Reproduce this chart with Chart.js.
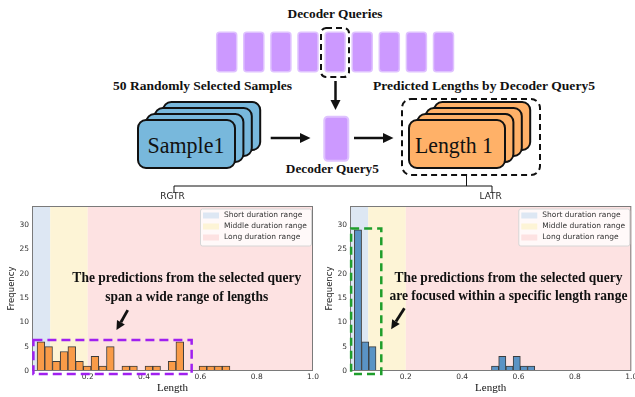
<!DOCTYPE html>
<html>
<head>
<meta charset="utf-8">
<script src="https://cdn.jsdelivr.net/npm/chart.js@4.4.0/dist/chart.umd.min.js"></script>
<style>
  html, body { margin: 0; padding: 0; background: #fff; overflow: hidden; }
  body { width: 635px; height: 397px; position: relative; }
  #diagram { position: absolute; left: 0; top: 0; pointer-events: none; }
  .panel { position: absolute; top: 190px; height: 207px; }
  #rgtrBox { left: 0; width: 322px; }
  #latrBox { left: 318px; width: 325px; }
  .lbl { font-family: "Liberation Serif", serif; font-weight: bold; fill: #111; }
  .big { font-family: "Liberation Serif", serif; fill: #111; }
</style>
</head>
<body>
<svg id="diagram" width="635" height="200">
  <text class="lbl" x="335" y="17.5" font-size="11.5" text-anchor="middle" textLength="95" lengthAdjust="spacingAndGlyphs">Decoder Queries</text>
  <g fill="#cc99ff" stroke="#dfc2ff" stroke-width="1.5">
    <rect x="216.7" y="32.3" width="20" height="39.4" rx="3"/>
    <rect x="243.8" y="32.3" width="20" height="39.4" rx="3"/>
    <rect x="270.9" y="32.3" width="20" height="39.4" rx="3"/>
    <rect x="298.0" y="32.3" width="20" height="39.4" rx="3"/>
    <rect x="325.1" y="32.3" width="20" height="39.4" rx="3"/>
    <rect x="352.2" y="32.3" width="20" height="39.4" rx="3"/>
    <rect x="379.3" y="32.3" width="20" height="39.4" rx="3"/>
    <rect x="406.4" y="32.3" width="20" height="39.4" rx="3"/>
    <rect x="433.5" y="32.3" width="20" height="39.4" rx="3"/>
  </g>
  <rect x="321" y="28" width="28" height="49" rx="5" fill="none" stroke="#111" stroke-width="2" stroke-dasharray="6 4"/>
  <line x1="335.5" y1="81" x2="335.5" y2="101" stroke="#111" stroke-width="2.5"/>
  <polygon points="330.5,100 340.5,100 335.5,110" fill="#111"/>

  <text class="lbl" x="202.5" y="90" font-size="12.5" text-anchor="middle" textLength="179" lengthAdjust="spacingAndGlyphs">50 Randomly Selected Samples</text>
  <text class="lbl" x="484" y="90" font-size="12.5" text-anchor="middle" textLength="222" lengthAdjust="spacingAndGlyphs">Predicted Lengths by Decoder Query5</text>

  <g fill="#78b8dc" stroke="#111" stroke-width="2">
    <rect x="163.2" y="102" width="97" height="48" rx="8"/>
    <rect x="154.8" y="108" width="97" height="48" rx="8"/>
    <rect x="146.4" y="114" width="97" height="48" rx="8"/>
    <rect x="138" y="120" width="97" height="48" rx="8"/>
  </g>
  <text class="big" x="186" y="152.5" font-size="23" text-anchor="middle" textLength="77" lengthAdjust="spacingAndGlyphs">Sample1</text>

  <line x1="270.7" y1="138" x2="302" y2="138" stroke="#111" stroke-width="2.5"/>
  <polygon points="300,133 300,143 310.5,138" fill="#111"/>

  <rect x="324.3" y="116.7" width="24" height="44" rx="3.5" fill="#cc99ff" stroke="#dfc2ff" stroke-width="2"/>
  <text class="lbl" x="332.3" y="172.5" font-size="11.5" text-anchor="middle" textLength="93" lengthAdjust="spacingAndGlyphs">Decoder Query5</text>

  <line x1="354" y1="138" x2="385" y2="138" stroke="#111" stroke-width="2.5"/>
  <polygon points="383,133 383,143 393.5,138" fill="#111"/>

  <g fill="#ffb168" stroke="#111" stroke-width="2">
    <rect x="434.2" y="102" width="96" height="48" rx="8"/>
    <rect x="425.8" y="108" width="96" height="48" rx="8"/>
    <rect x="417.4" y="114" width="96" height="48" rx="8"/>
    <rect x="409" y="120" width="96" height="48" rx="8"/>
  </g>
  <text class="big" x="454" y="152.5" font-size="23" text-anchor="middle" textLength="78" lengthAdjust="spacingAndGlyphs">Length 1</text>
  <rect x="402" y="99" width="138" height="76" rx="9" fill="none" stroke="#111" stroke-width="2" stroke-dasharray="6 4"/>

  <path d="M174 192.5 V186 H492 V192.5 M466.5 176 V186" fill="none" stroke="#111" stroke-width="1"/>
</svg>

<div class="panel" id="rgtrBox"><canvas id="rgtr"></canvas></div>
<div class="panel" id="latrBox"><canvas id="latr"></canvas></div>

<script>
// duration ranges (normalised length)
const rangeEdges = [0, 0.0667, 0.2, 1.0];
const rangeLabels = ['Short duration range', 'Middle duration range', 'Long duration range'];
const rangeColors = ['#dde7f3', '#fdf4d6', '#fde2e2'];

const xTicks = [0.2, 0.4, 0.6, 0.8, 1.0];
const yTicks = [0, 5, 10, 15, 20, 25, 30];

// RGTR histogram (bin centres / counts)
const rgtrBins = [0.0337, 0.0611, 0.0885, 0.1159, 0.1433, 0.1707, 0.1981, 0.2255, 0.2529, 0.2803,
                  0.3077, 0.3351, 0.3625, 0.3899, 0.4173, 0.4447, 0.4721, 0.4995, 0.5269, 0.5543,
                  0.5817, 0.6091, 0.6365, 0.6639, 0.6913];
const rgtrCounts = [6, 5, 2, 4, 5, 2, 1, 3, 1, 5,
                    0, 1, 1, 0, 1, 1, 0, 2, 6, 0,
                    0, 1, 1, 1, 1];

// LATR histogram
const latrBins = [0.0303, 0.0559, 0.0815, 0.1071, 0.1327, 0.1583, 0.1839, 0.2095, 0.2351, 0.2607,
                  0.2863, 0.3119, 0.3375, 0.3631, 0.3887, 0.4143, 0.4399, 0.4655, 0.4911, 0.5167,
                  0.5423, 0.5679, 0.5935, 0.6191, 0.6447];
const latrCounts = [29, 6, 5, 0, 0, 0, 0, 0, 0, 0,
                    0, 0, 0, 0, 0, 0, 0, 0, 0, 1,
                    3, 1, 3, 1, 1];

const decor = {
    id: 'decor',
    beforeDraw(chart) {
        const {ctx, chartArea: a, scales: {x}} = chart;
        ctx.save();
        for (let i = 0; i < rangeColors.length; i++) {
            const x0 = Math.max(a.left, x.getPixelForValue(rangeEdges[i]));
            const x1 = Math.min(a.right, x.getPixelForValue(rangeEdges[i + 1]));
            ctx.fillStyle = rangeColors[i];
            ctx.fillRect(x0, a.top, x1 - x0, a.bottom - a.top);
        }
        ctx.restore();
    },
    afterDraw(chart, args, opts) {
        const {ctx, chartArea: a, scales: {x, y}} = chart;
        ctx.save();
        // frame
        ctx.strokeStyle = '#7a7a7a';
        ctx.lineWidth = 1;
        ctx.strokeRect(a.left + 0.5, a.top + 0.5, a.right - a.left - 1, a.bottom - a.top - 1);

        // legend box in upper right
        const lx = a.right - 113, ly = a.top + 2.5;
        ctx.fillStyle = 'rgba(255,255,255,0.8)';
        ctx.strokeStyle = '#d6d6d6';
        ctx.beginPath();
        ctx.roundRect(lx + 0.5, ly + 0.5, 111, 37, 2);
        ctx.fill();
        ctx.stroke();
        ctx.font = '7.5px "DejaVu Sans"';
        ctx.textBaseline = 'middle';
        ctx.textAlign = 'left';
        rangeLabels.forEach((t, i) => {
            const cy = ly + 7 + i * 11;
            ctx.fillStyle = rangeColors[i];
            ctx.fillRect(lx + 3, cy - 3, 16, 6);
            ctx.fillStyle = '#333';
            ctx.fillText(t, lx + 24, cy);
        });

        // dashed highlight box
        const b = opts.box;
        const bx0 = x.getPixelForValue(b.x[0]), bx1 = x.getPixelForValue(b.x[1]);
        const by0 = y.getPixelForValue(b.y[1]), by1 = y.getPixelForValue(b.y[0]);
        ctx.setLineDash(b.dash);
        ctx.strokeStyle = b.color;
        ctx.lineWidth = 2.5;
        ctx.strokeRect(bx0, by0, bx1 - bx0, by1 - by0);
        ctx.setLineDash([]);

        // arrow
        const p0 = [x.getPixelForValue(opts.arrow[0][0]), y.getPixelForValue(opts.arrow[0][1])];
        const p1 = [x.getPixelForValue(opts.arrow[1][0]), y.getPixelForValue(opts.arrow[1][1])];
        const ang = Math.atan2(p1[1] - p0[1], p1[0] - p0[0]);
        const hl = 9, hw = 4.5;
        const bxp = p1[0] - hl * Math.cos(ang), byp = p1[1] - hl * Math.sin(ang);
        ctx.strokeStyle = '#111';
        ctx.fillStyle = '#111';
        ctx.lineWidth = 2.8;
        ctx.beginPath();
        ctx.moveTo(p0[0], p0[1]);
        ctx.lineTo(bxp, byp);
        ctx.stroke();
        ctx.beginPath();
        ctx.moveTo(p1[0], p1[1]);
        ctx.lineTo(bxp + hw * Math.sin(ang), byp - hw * Math.cos(ang));
        ctx.lineTo(bxp - hw * Math.sin(ang), byp + hw * Math.cos(ang));
        ctx.closePath();
        ctx.fill();

        // annotation text
        ctx.font = 'bold 14px "Liberation Serif"';
        ctx.textAlign = 'center';
        ctx.textBaseline = 'middle';
        ctx.fillStyle = '#111';
        const tx = x.getPixelForValue(opts.textX);
        opts.lines.forEach(l => ctx.fillText(l.text, tx, y.getPixelForValue(l.y), l.width));
        ctx.restore();
    }
};

function makeChart(id, title, bins, counts, barColor, padRight, notes) {
    const ctx = document.getElementById(id).getContext('2d');
    return new Chart(ctx, {
        type: 'bar',
        data: {
            datasets: [{
                data: bins.map((b, i) => ({x: b, y: counts[i]})),
                backgroundColor: barColor,
                borderColor: '#3c3c3c',
                borderWidth: c => (c.raw && c.raw.y ? 1 : 0),
                borderSkipped: false,
                barPercentage: 1,
                categoryPercentage: 1
            }]
        },
        options: {
            responsive: true,
            maintainAspectRatio: false,
            animation: false,
            layout: { padding: { left: 0, right: padRight, top: 0, bottom: 0 } },
            plugins: {
                legend: { display: false },
                tooltip: { enabled: false },
                title: {
                    display: true,
                    text: title,
                    fullSize: false,
                    color: '#222',
                    font: { family: 'DejaVu Sans', size: 9, weight: 'normal' },
                    padding: { top: 1.6, bottom: 3.6 }
                },
                decor: notes
            },
            scales: {
                x: {
                    type: 'linear',
                    min: 0.002,
                    max: 1,
                    offset: false,
                    grid: { display: false, drawTicks: false },
                    border: { display: false },
                    afterBuildTicks: s => { s.ticks = xTicks.map(v => ({value: v})); },
                    afterFit: s => { s.height = 26; },
                    ticks: {
                        color: '#333',
                        padding: 2,
                        maxRotation: 0,
                        autoSkip: false,
                        font: { family: 'DejaVu Sans', size: 7.5 },
                        callback: v => v.toFixed(1)
                    },
                    title: {
                        display: true,
                        text: 'Length',
                        color: '#111',
                        font: { family: 'Liberation Serif', size: 11 },
                        padding: { top: 0, bottom: 2.7 }
                    }
                },
                y: {
                    min: 0,
                    max: 33.9,
                    grid: { display: false, drawTicks: false },
                    border: { display: false },
                    afterBuildTicks: s => { s.ticks = yTicks.map(v => ({value: v})); },
                    afterFit: s => { s.width = 32; },
                    ticks: {
                        color: '#333',
                        padding: 3,
                        font: { family: 'DejaVu Sans', size: 7.5 }
                    },
                    title: {
                        display: true,
                        text: 'Frequency',
                        color: '#222',
                        font: { family: 'DejaVu Sans', size: 8.5 },
                        padding: { top: 6.9, bottom: 0 }
                    }
                }
            }
        },
        plugins: [decor]
    });
}

makeChart('rgtr', 'RGTR', rgtrBins, rgtrCounts, '#f99b48', 9, {
    box: { x: [0.007, 0.569], y: [-0.6, 6.36], color: '#a020f0', dash: [9, 5] },
    arrow: [[0.342, 12.5], [0.302, 8.4]],
    textX: 0.552,
    lines: [
        { text: 'The predictions from the selected query', y: 19.1, width: 229 },
        { text: 'span a wide range of lengths', y: 15.2, width: 163 }
    ]
});

makeChart('latr', 'LATR', latrBins, latrCounts, '#5a93c5', 11.7, {
    box: { x: [0.006, 0.113], y: [-0.6, 29.3], color: '#1f9e2c', dash: [8, 5] },
    arrow: [[0.195, 12.9], [0.148, 8.6]],
    textX: 0.564,
    lines: [
        { text: 'The predictions from the selected query', y: 19.07, width: 228 },
        { text: 'are focused within a specific length range', y: 15.23, width: 238 }
    ]
});
</script>
</body>
</html>
